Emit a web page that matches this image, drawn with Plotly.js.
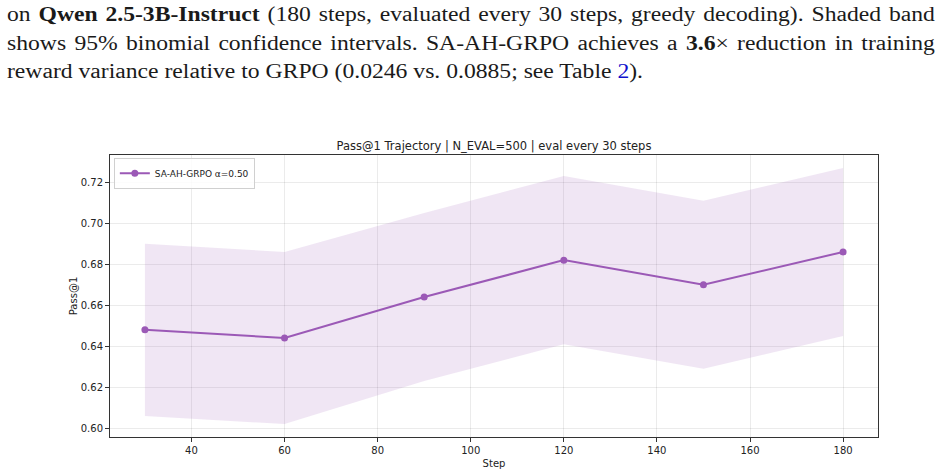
<!DOCTYPE html>
<html>
<head>
<meta charset="utf-8">
<script src="https://cdn.plot.ly/plotly-3.0.1.min.js"></script>
<style>
  html, body { margin: 0; padding: 0; width: 948px; height: 472px; overflow: hidden; background: #fff; }
  #cap { position: absolute; left: 7px; top: 0px; width: 785px; transform: scaleX(1.182); transform-origin: 0 0;
         font-family: "Liberation Serif", "DejaVu Serif", serif; font-size: 20px; color: #1a1a1a; z-index: 2; }
  .ln { height: 28.5px; line-height: 28.5px; white-space: nowrap; }
  .just { text-align: justify; text-align-last: justify; white-space: normal; }
  .blue { color: #1010cc; }
  #chart { position: absolute; left: 0; top: 0; width: 948px; height: 472px; }
</style>
</head>
<body>
<div id="cap">
  <div class="ln just">on <b>Qwen 2.5-3B-Instruct</b> (180 steps, evaluated every 30 steps, greedy decoding). Shaded band</div>
  <div class="ln just">shows 95% binomial confidence intervals. SA-AH-GRPO achieves a <b>3.6</b>× reduction in training</div>
  <div class="ln">reward variance relative to GRPO (0.0246 vs. 0.0885; see Table <span class="blue">2</span>).</div>
</div>
<div id="chart"></div>
<script>
const steps = [30, 60, 90, 120, 150, 180];
const pass1 = [0.648, 0.644, 0.664, 0.682, 0.670, 0.686];
const ciLow = [0.606, 0.602, 0.623, 0.641, 0.629, 0.645];
const ciHigh = [0.690, 0.686, 0.705, 0.723, 0.711, 0.727];
const seriesName = "SA-AH-GRPO α=0.50";
const xTicks = [40, 60, 80, 100, 120, 140, 160, 180];
const yTicks = [0.60, 0.62, 0.64, 0.66, 0.68, 0.70, 0.72];

const color = "#9b59b6";
const traces = [
  { x: steps, y: ciHigh, mode: "lines", line: { width: 0, color: color }, showlegend: false, hoverinfo: "skip" },
  { x: steps, y: ciLow, mode: "lines", line: { width: 0, color: color }, fill: "tonexty",
    fillcolor: "rgba(155,89,182,0.15)", showlegend: false, hoverinfo: "skip" },
  { x: steps, y: pass1, mode: "lines+markers", name: seriesName,
    line: { color: color, width: 2 }, marker: { color: color, size: 7 } }
];

const axisCommon = {
  showline: true, linecolor: "#333", linewidth: 1, mirror: true,
  ticks: "outside", ticklen: 4, tickcolor: "#333",
  showgrid: true, gridcolor: "rgba(0,0,0,0.08)", gridwidth: 1,
  zeroline: false, tickfont: { family: "DejaVu Sans", size: 10, color: "#222" }
};

const layout = {
  width: 948, height: 472,
  margin: { l: 110, r: 70, t: 155, b: 35 },
  paper_bgcolor: "rgba(0,0,0,0)", plot_bgcolor: "#fff",
  title: { text: "Pass@1 Trajectory | N_EVAL=500 | eval every 30 steps",
    font: { family: "DejaVu Sans", size: 11.5, color: "#222" },
    x: 0.5, xanchor: "center", xref: "paper", yref: "container", y: 1 - 146 / 472, yanchor: "middle" },
  xaxis: Object.assign({}, axisCommon, { range: [22.5, 187.5], tickvals: xTicks,
    title: { text: "Step", font: { family: "DejaVu Sans", size: 10, color: "#222" }, standoff: 4 } }),
  yaxis: Object.assign({}, axisCommon, { range: [0.5957, 0.7333], tickvals: yTicks, tickformat: ".2f",
    title: { text: "Pass@1", font: { family: "DejaVu Sans", size: 10, color: "#222" }, standoff: 1 } }),
  legend: { x: 0.005, y: 0.99, xanchor: "left", yanchor: "top", bgcolor: "rgba(255,255,255,0.85)",
    bordercolor: "#d0d0d0", borderwidth: 1, font: { family: "DejaVu Sans", size: 9, color: "#222" },
    itemwidth: 30, tracegroupgap: 0 },
  showlegend: true
};

Plotly.newPlot("chart", traces, layout, { displayModeBar: false, staticPlot: true });
</script>
</body>
</html>
